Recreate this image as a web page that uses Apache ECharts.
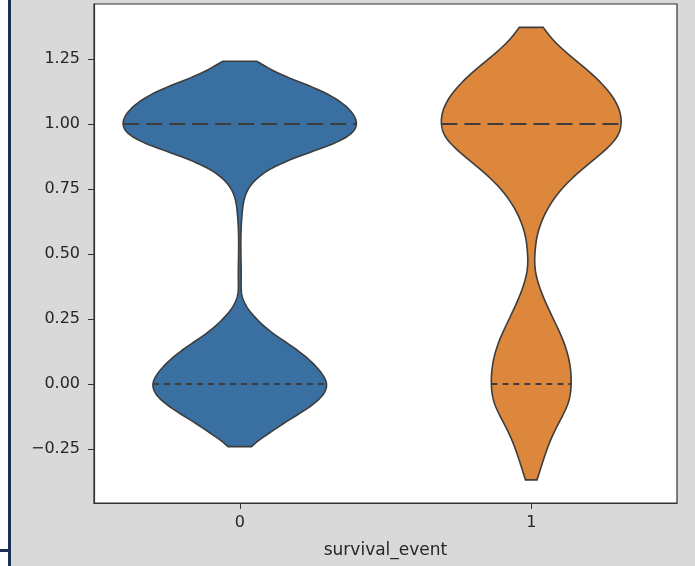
<!DOCTYPE html>
<html><head><meta charset="utf-8">
<script src="https://cdn.jsdelivr.net/npm/echarts@6/dist/echarts.min.js"></script>
<style>html,body{margin:0;padding:0;background:#d9d9d9;}#c{width:695px;height:566px;}</style>
</head><body><div id="c"></div>
<script>
// ---- data ----
const categories = ['0', '1'];
const yTicks = [-0.25, 0, 0.25, 0.5, 0.75, 1.0, 1.25];
const yMin = -0.458, yMax = 1.462;

// violin 0 (blue): value grid and relative density (half-width)
const blueY = [1.242, 1.188, 1.137, 1.086, 1.042, 1.0, 0.958, 0.919, 0.881, 0.831, 0.778, 0.727, 0.663, 0.60, 0.50, 0.40, 0.33, 0.297, 0.246, 0.196, 0.143, 0.092, 0.047, 0.0, -0.049, -0.10, -0.151, -0.19, -0.215, -0.241];
const blueDensity = [0.145, 0.37, 0.65, 0.86, 0.965, 1.0, 0.94, 0.77, 0.54, 0.28, 0.12, 0.05, 0.022, 0.012, 0.01, 0.012, 0.025, 0.06, 0.154, 0.282, 0.453, 0.598, 0.692, 0.744, 0.70, 0.56, 0.38, 0.25, 0.17, 0.10];

// violin 1 (orange)
const orangeY = [1.372, 1.323, 1.272, 1.208, 1.143, 1.08, 1.0, 0.951, 0.887, 0.823, 0.759, 0.695, 0.631, 0.567, 0.503, 0.465, 0.438, 0.362, 0.259, 0.157, 0.08, 0.0, -0.074, -0.151, -0.228, -0.305, -0.369];
const orangeDensity = [0.103, 0.19, 0.31, 0.48, 0.63, 0.73, 0.77, 0.735, 0.6, 0.43, 0.28, 0.17, 0.095, 0.05, 0.032, 0.03, 0.035, 0.08, 0.18, 0.282, 0.329, 0.342, 0.316, 0.235, 0.155, 0.095, 0.05];

// inner quartile lines
const medians = [1.0, 1.0];
const lowerQuartiles = [0.0, 0.0];

// ---- chart ----
const violins = [
  {y: blueY, d: blueDensity, color: '#3a6fa1'},
  {y: orangeY, d: orangeDensity, color: '#dc873b'}
];
const edge = '#3d3d3d';

// natural cubic spline of density over value (rendering only)
function makeSpline(ysDesc, dsDesc) {
  const x = ysDesc.slice().reverse(), y = dsDesc.slice().reverse();
  const n = x.length, h = [];
  for (let i = 0; i < n - 1; i++) h[i] = x[i + 1] - x[i];
  const a = new Array(n).fill(0), b = new Array(n).fill(1), c = new Array(n).fill(0), r = new Array(n).fill(0);
  for (let i = 1; i < n - 1; i++) {
    a[i] = h[i - 1]; b[i] = 2 * (h[i - 1] + h[i]); c[i] = h[i];
    r[i] = 6 * ((y[i + 1] - y[i]) / h[i] - (y[i] - y[i - 1]) / h[i - 1]);
  }
  for (let i = 1; i < n; i++) { const w = a[i] / b[i - 1]; b[i] -= w * c[i - 1]; r[i] -= w * r[i - 1]; }
  const M = new Array(n);
  M[n - 1] = r[n - 1] / b[n - 1];
  for (let i = n - 2; i >= 0; i--) M[i] = (r[i] - c[i] * M[i + 1]) / b[i];
  const f = v => {
    if (v <= x[0]) return y[0];
    if (v >= x[n - 1]) return y[n - 1];
    let i = 0; while (i < n - 2 && v > x[i + 1]) i++;
    const A = (x[i + 1] - v) / h[i], B = (v - x[i]) / h[i];
    return A * y[i] + B * y[i + 1] + ((A * A * A - A) * M[i] + (B * B * B - B) * M[i + 1]) * h[i] * h[i] / 6;
  };
  f.lo = x[0]; f.hi = x[n - 1];
  return f;
}
violins.forEach(v => v.f = makeSpline(v.y, v.d));

const chart = echarts.init(document.getElementById('c'), null, {renderer: 'canvas'});
const font = 'DejaVu Sans';
chart.setOption({
  backgroundColor: '#d9d9d9',
  animation: false,
  grid: {left: 94, right: 18, top: 4, bottom: 63, show: true, backgroundColor: '#ffffff', borderColor: '#333', borderWidth: 1.2},
  xAxis: {
    type: 'category', data: categories,
    axisLine: {show: true, onZero: false, lineStyle: {color: '#333', width: 1.2}},
    axisTick: {show: true, alignWithLabel: true, length: 6, lineStyle: {color: '#333'}},
    axisLabel: {color: '#262626', fontFamily: font, fontSize: 16, margin: 12},
    name: 'survival_event', nameLocation: 'middle', nameGap: 39,
    nameTextStyle: {color: '#262626', fontFamily: font, fontSize: 17}
  },
  yAxis: {
    type: 'value', min: yMin, max: yMax,
    splitLine: {show: false},
    axisLine: {show: true, lineStyle: {color: '#333', width: 1.2}},
    axisTick: {show: true, length: 6, lineStyle: {color: '#333'}, customValues: yTicks},
    axisLabel: {color: '#262626', fontFamily: font, fontSize: 16, margin: 14, customValues: yTicks,
      formatter: v => (v < 0 ? '\u2212' : '') + Math.abs(v).toFixed(2)}
  },
  graphic: [
    {type: 'rect', shape: {x: 0, y: 0, width: 8, height: 566}, style: {fill: '#ffffff'}, z: 100},
    {type: 'rect', shape: {x: 8, y: 0, width: 3, height: 566}, style: {fill: '#1e2f55'}, z: 101},
    {type: 'rect', shape: {x: 0, y: 549, width: 9, height: 3}, style: {fill: '#1e2f55'}, z: 101}
  ],
  series: [{
    type: 'custom',
    coordinateSystem: 'cartesian2d',
    data: categories.map((c, i) => [i]),
    encode: {x: 0},
    renderItem: function (params, api) {
      const i = api.value(0);
      const v = violins[i];
      const cx = api.coord([i, 0])[0];
      const band = api.size([1, 0])[0];
      const k = band * 0.4;
      const steps = 300;
      const right = [], left = [];
      for (let s = 0; s <= steps; s++) {
        const val = v.f.hi - (v.f.hi - v.f.lo) * s / steps;
        const w = Math.max(v.f(val), 0.006) * k;
        const py = api.coord([i, val])[1];
        right.push([cx + w, py]);
        left.push([cx - w, py]);
      }
      const pts = right.concat(left.reverse());
      const children = [{
        type: 'polygon', shape: {points: pts},
        style: {fill: v.color, stroke: edge, lineWidth: 1.6}
      }];
      const mk = (val, dash) => {
        const w = v.f(val) * k;
        const yy = api.coord([i, val])[1];
        return {type: 'line', shape: {x1: cx - w, y1: yy, x2: cx + w, y2: yy},
          style: {stroke: edge, lineWidth: 2, lineDash: dash}};
      };
      children.push(mk(medians[i], [16, 7]));
      children.push(mk(lowerQuartiles[i], [6, 5]));
      return {type: 'group', children: children};
    }
  }]
});
</script></body></html>
